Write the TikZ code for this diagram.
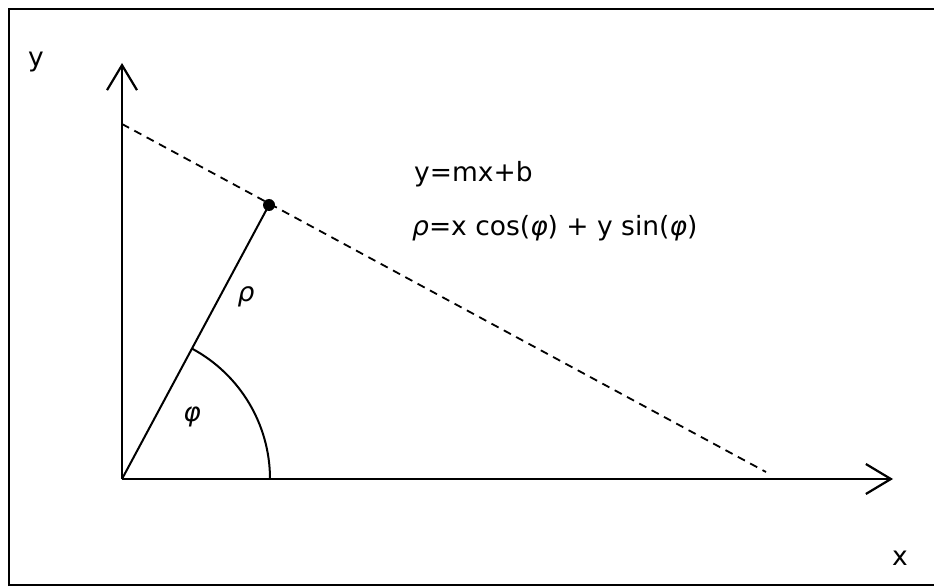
\documentclass[tikz,border=0pt]{standalone}
\usepackage{fontspec}
\setmainfont{DejaVu Sans}
\usetikzlibrary{arrows.meta}
\begin{document}
\begin{tikzpicture}[x=1pt,y=-1pt,
  axis/.style={line width=2.2pt,-{Straight Barb[length=25pt,width=30pt,line width=2.2pt]}},
  thin line/.style={line width=2pt},
  lbl/.style={font=\fontsize{26.5}{31}\selectfont, inner sep=0pt},
  greek/.style={font=\fontsize{26.5}{31}\selectfont\itshape, inner sep=0pt}]
\useasboundingbox (0,0) rectangle (934,588);
% frame
\draw[line width=2.4pt] (9,586) -- (9,9) -- (934,9);
\draw[line width=2.4pt] (9,585) -- (934,585);
% coordinates
\coordinate (O) at (122,479);
\coordinate (Ytip) at (122,63);
\coordinate (Xtip) at (893,479);
\coordinate (B) at (122,124);
\coordinate (E) at (766,472);
\node[circle, fill=black, inner sep=0pt, minimum size=12pt] (P) at (269,205) {};
% axes
\draw[axis] (O) -- (Ytip);
\draw[axis] (O) -- (Xtip);
% dashed line
\draw[line width=1.8pt, dash pattern=on 8pt off 6pt] (B) -- (E);
% rho segment
\draw[thin line] (O) -- (P.center);
% angle arc
\draw[thin line] (270,479) arc[start angle=0, end angle=-61.7, radius=148];
% labels
\node[lbl] (ylab) at (36,62) {y};
\node[lbl] (xlab) at (900,558) {x};
\node[greek] (rholab) at (246,297) {ρ};
\node[greek] (philab) at (192,417) {φ};
\node[lbl, anchor=base west] (eq1) at (414,182) {y=mx+b};
\node[lbl, anchor=base west] (eq2) at (412,236) {{\itshape ρ}=x cos({\itshape φ}) + y sin({\itshape φ})};
\end{tikzpicture}
\end{document}
